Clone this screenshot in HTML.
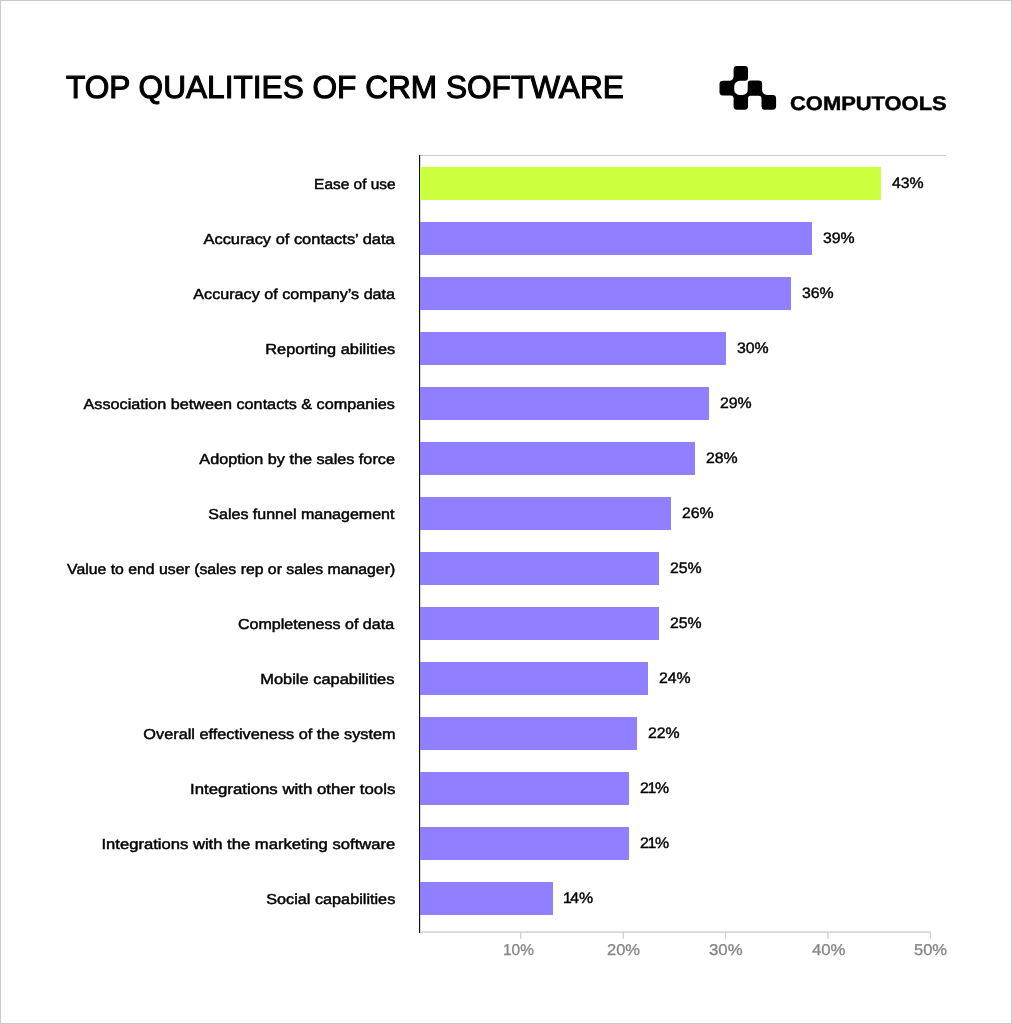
<!DOCTYPE html>
<html><head><meta charset="utf-8"><title>Top qualities of CRM software</title>
<style>
html,body{margin:0;padding:0;background:#fff;}
body{text-rendering:geometricPrecision;width:1012px;height:1024px;position:relative;overflow:hidden;font-family:"Liberation Sans",sans-serif;color:#000;}
#wrap{position:absolute;left:0;top:0;width:1012px;height:1024px;will-change:transform;}
#frame{position:absolute;left:0;top:0;width:1010px;height:1022px;border:1px solid #c9c9c9;}
.abs{position:absolute;white-space:nowrap;line-height:1;}
#title{left:65.7px;top:72px;font-size:31.8px;transform-origin:0 0;transform:scaleX(0.994);-webkit-text-stroke:1.1px #000;}
#brand{left:790.4px;top:95px;font-size:19.8px;font-weight:bold;transform-origin:0 0;transform:scaleX(1.108);-webkit-text-stroke:0.45px #000;}
.bar{position:absolute;left:420px;height:33px;background:#9080ff;}
.bar.hi{background:#ccff3d;}
.lab{right:617.4px;font-size:14.50px;transform-origin:100% 50%;-webkit-text-stroke:0.45px #000;color:#000;}
.pct{font-size:15.20px;-webkit-text-stroke:0.4px #000;transform-origin:0 50%;}
.ax{font-size:15.6px;color:#848484;top:943px;transform-origin:0 50%;-webkit-text-stroke:0.3px #848484;}
</style></head><body>
<div id="wrap">
<div id="frame"></div>
<div id="title" class="abs">TOP QUALITIES OF CRM SOFTWARE</div>
<svg id="logo" class="abs" style="left:716px;top:62px" width="64" height="52" viewBox="716 62 64 52"><path id="lp" fill="#000" fill-rule="evenodd" d="M737.00,66.05L744.65,66.05A3.40,3.40 0 0 1 748.05,69.45L748.05,77.85A3.00,3.00 0 0 1 745.05,80.85L739.80,80.85A5.60,5.60 0 0 0 734.20,86.45L734.20,89.60A5.30,5.30 0 0 0 739.50,94.90L742.70,94.90A5.00,5.00 0 0 0 747.70,89.90L747.70,83.50A3.00,3.00 0 0 1 750.70,80.50L758.70,80.50A3.40,3.40 0 0 1 762.10,83.90L762.10,89.90A5.00,5.00 0 0 0 767.10,94.90L772.70,94.90A3.40,3.40 0 0 1 776.10,98.30L776.10,106.35A3.40,3.40 0 0 1 772.70,109.75L764.90,109.75A3.40,3.40 0 0 1 761.50,106.35L761.50,98.50A2.80,2.80 0 0 0 758.70,95.70L750.65,95.70A2.60,2.60 0 0 0 748.05,98.30L748.05,106.35A3.40,3.40 0 0 1 744.65,109.75L737.00,109.75A3.40,3.40 0 0 1 733.60,106.35L733.60,98.50A3.00,3.00 0 0 0 730.60,95.50L722.90,95.50A3.40,3.40 0 0 1 719.50,92.10L719.50,84.10A3.40,3.40 0 0 1 722.90,80.70L729.40,80.70A4.20,4.20 0 0 0 733.60,76.50L733.60,69.45A3.40,3.40 0 0 1 737.00,66.05Z"/></svg>
<div id="brand" class="abs">COMPUTOOLS</div>
<div style="position:absolute;left:420px;top:155px;width:526px;height:1px;background:#cdcdcd"></div>
<div style="position:absolute;left:419px;top:155px;width:1px;height:778px;background:#111"></div>
<div style="position:absolute;left:420px;top:155px;width:1px;height:778px;background:rgba(0,0,0,0.16)"></div>
<svg class="abs" style="left:400px;top:925px" width="560" height="20" viewBox="400 925 560 20"><rect x="420" y="931.35" width="511" height="1.45" fill="#d0d0d0"/><rect x="519.95" y="932" width="1.3" height="6.9" fill="#d0d0d0"/><rect x="622.55" y="932" width="1.3" height="6.9" fill="#d0d0d0"/><rect x="724.85" y="932" width="1.3" height="6.9" fill="#d0d0d0"/><rect x="827.15" y="932" width="1.3" height="6.9" fill="#d0d0d0"/><rect x="929.65" y="932" width="1.3" height="6.9" fill="#d0d0d0"/></svg>
<div class="bar hi" style="top:167px;width:461px"></div>
<div class="abs lab" style="top:177.8px;right:616.68px;transform:scaleX(1.0638)">Ease of use</div>
<div class="abs pct" style="left:892.0px;top:176px;transform:scaleX(1.043)">43%</div>
<div class="bar" style="top:222px;width:392px"></div>
<div class="abs lab" style="top:232.8px;right:617.58px;transform:scaleX(1.1335)">Accuracy of contacts’ data</div>
<div class="abs pct" style="left:823.0px;top:231px;transform:scaleX(1.043)">39%</div>
<div class="bar" style="top:277px;width:371px"></div>
<div class="abs lab" style="top:287.8px;right:617.12px;transform:scaleX(1.1143)">Accuracy of company’s data</div>
<div class="abs pct" style="left:802.0px;top:286px;transform:scaleX(1.043)">36%</div>
<div class="bar" style="top:332px;width:306px"></div>
<div class="abs lab" style="top:342.8px;right:616.97px;transform:scaleX(1.1274)">Reporting abilities</div>
<div class="abs pct" style="left:737.0px;top:341px;transform:scaleX(1.043)">30%</div>
<div class="bar" style="top:387px;width:289px"></div>
<div class="abs lab" style="top:397.8px;right:617.40px;transform:scaleX(1.1163)">Association between contacts &amp; companies</div>
<div class="abs pct" style="left:720.0px;top:396px;transform:scaleX(1.043)">29%</div>
<div class="bar" style="top:442px;width:275px"></div>
<div class="abs lab" style="top:452.8px;right:617.44px;transform:scaleX(1.1181)">Adoption by the sales force</div>
<div class="abs pct" style="left:706.0px;top:451px;transform:scaleX(1.043)">28%</div>
<div class="bar" style="top:497px;width:251px"></div>
<div class="abs lab" style="top:507.8px;right:617.74px;transform:scaleX(1.1050)">Sales funnel management</div>
<div class="abs pct" style="left:682.0px;top:506px;transform:scaleX(1.043)">26%</div>
<div class="bar" style="top:552px;width:239px"></div>
<div class="abs lab" style="top:562.8px;right:616.57px;transform:scaleX(1.0893)">Value to end user (sales rep or sales manager)</div>
<div class="abs pct" style="left:670.0px;top:561px;transform:scaleX(1.043)">25%</div>
<div class="bar" style="top:607px;width:239px"></div>
<div class="abs lab" style="top:617.8px;right:618.00px;transform:scaleX(1.1069)">Completeness of data</div>
<div class="abs pct" style="left:670.0px;top:616px;transform:scaleX(1.043)">25%</div>
<div class="bar" style="top:662px;width:228px"></div>
<div class="abs lab" style="top:672.8px;right:617.53px;transform:scaleX(1.1334)">Mobile capabilities</div>
<div class="abs pct" style="left:659.0px;top:671px;transform:scaleX(1.043)">24%</div>
<div class="bar" style="top:717px;width:217px"></div>
<div class="abs lab" style="top:727.8px;right:616.49px;transform:scaleX(1.1231)">Overall effectiveness of the system</div>
<div class="abs pct" style="left:648.0px;top:726px;transform:scaleX(1.043)">22%</div>
<div class="bar" style="top:772px;width:209px"></div>
<div class="abs lab" style="top:782.8px;right:616.82px;transform:scaleX(1.1580)">Integrations with other tools</div>
<div class="abs pct" style="left:640.0px;top:781px;transform:scaleX(1.043)"><span style="letter-spacing:-1.2px">21</span>%</div>
<div class="bar" style="top:827px;width:209px"></div>
<div class="abs lab" style="top:837.8px;right:617.13px;transform:scaleX(1.1467)">Integrations with the marketing software</div>
<div class="abs pct" style="left:640.0px;top:836px;transform:scaleX(1.043)"><span style="letter-spacing:-1.2px">21</span>%</div>
<div class="bar" style="top:882px;width:133px"></div>
<div class="abs lab" style="top:892.8px;right:616.82px;transform:scaleX(1.1194)">Social capabilities</div>
<div class="abs pct" style="left:563.1px;top:891px;transform:scaleX(1.043)"><span style="letter-spacing:-1.5px">1</span>4%</div>
<div class="abs ax" style="left:502.60px;transform:scaleX(0.9875)">10%</div>
<div class="abs ax" style="left:606.88px;transform:scaleX(1.0551)">20%</div>
<div class="abs ax" style="left:708.81px;transform:scaleX(1.0767)">30%</div>
<div class="abs ax" style="left:812.16px;transform:scaleX(1.0722)">40%</div>
<div class="abs ax" style="left:913.76px;transform:scaleX(1.0588)">50%</div>
</div>
</body></html>
